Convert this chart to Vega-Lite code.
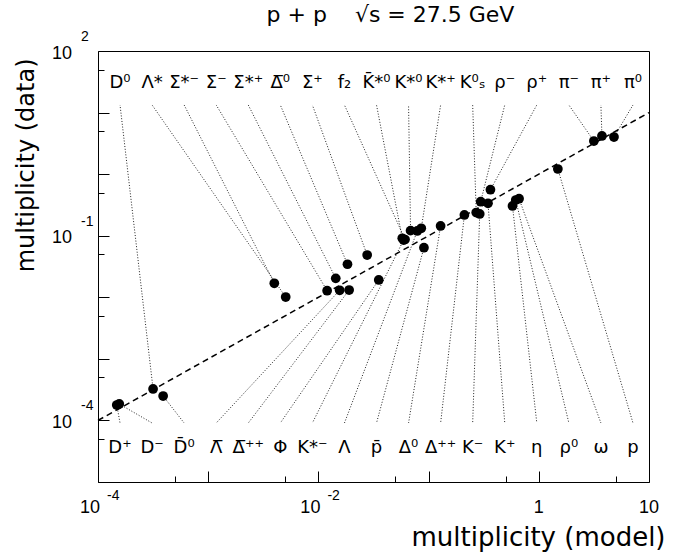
{
  "$schema": "https://vega.github.io/schema/vega-lite/v6.json",
  "width": 551,
  "height": 431,
  "autosize": {"type": "none"},
  "padding": {"left": 98, "top": 51, "right": 32, "bottom": 73},
  "background": "white",
  "title": {"text": "p + p\u00a0\u00a0\u00a0\u00a0\u221as = 27.5 GeV", "font": "DejaVu Sans", "fontSize": 22, "fontWeight": "normal", "color": "black", "frame": "group", "anchor": "middle", "dx": 17, "offset": 7, "dy": 21, "baseline": "alphabetic"},
  "config": {
    "view": {"stroke": "black", "strokeWidth": 1},
    "axis": {"grid": false, "domain": false, "labels": false, "ticks": true, "tickColor": "black", "tickWidth": 1, "titleFont": "DejaVu Sans", "titleFontWeight": "normal", "titleColor": "black"}
  },
  "datasets": {
    "particles": [
      {"label": "D\u2070", "pos": "top", "labx": 0.00015849, "model": 0.000316, "data": 0.000324},
      {"label": "\u039b*", "pos": "top", "labx": 0.00030967, "model": 0.00505, "data": 0.0101},
      {"label": "\u03a3*\u207b", "pos": "top", "labx": 0.00060496, "model": 0.00398, "data": 0.0169},
      {"label": "\u03a3\u207b", "pos": "top", "labx": 0.0011823, "model": 0.0120, "data": 0.0128},
      {"label": "\u03a3*\u207a", "pos": "top", "labx": 0.0023101, "model": 0.01437, "data": 0.0203},
      {"label": "\u0394\u0305\u2070", "pos": "top", "labx": 0.004513, "model": 0.01836, "data": 0.0344},
      {"label": "\u03a3\u207a", "pos": "top", "labx": 0.0088179, "model": 0.0277, "data": 0.0486},
      {"label": "f\u2082", "pos": "top", "labx": 0.017233, "model": 0.0611, "data": 0.0868},
      {"label": "K\u0304*\u2070", "pos": "top", "labx": 0.033677, "model": 0.0577, "data": 0.0908},
      {"label": "K*\u2070", "pos": "top", "labx": 0.065793, "model": 0.0686, "data": 0.1208},
      {"label": "K*\u207a", "pos": "top", "labx": 0.12857, "model": 0.0858, "data": 0.132},
      {"label": "K\u2070\u209b", "pos": "top", "labx": 0.25119, "model": 0.2705, "data": 0.238},
      {"label": "\u03c1\u207b", "pos": "top", "labx": 0.49091, "model": 0.297, "data": 0.357},
      {"label": "\u03c1\u207a", "pos": "top", "labx": 0.95902, "model": 0.364, "data": 0.558},
      {"label": "\u03c0\u207b", "pos": "top", "labx": 1.8738, "model": 3.16, "data": 3.45},
      {"label": "\u03c0\u207a", "pos": "top", "labx": 3.6618, "model": 3.74, "data": 4.17},
      {"label": "\u03c0\u2070", "pos": "top", "labx": 7.1558, "model": 4.81, "data": 4.01},
      {"label": "D\u207a", "pos": "bottom", "labx": 0.00015849, "model": 0.000148, "data": 0.000178},
      {"label": "D\u207b", "pos": "bottom", "labx": 0.00030967, "model": 0.000156, "data": 0.000185},
      {"label": "D\u0304\u2070", "pos": "bottom", "labx": 0.00060496, "model": 0.00039, "data": 0.000249},
      {"label": "\u039b\u0305", "pos": "bottom", "labx": 0.0011823, "model": 0.0156, "data": 0.0130},
      {"label": "\u0394\u0305\u207a\u207a", "pos": "bottom", "labx": 0.0023101, "model": 0.0190, "data": 0.0131},
      {"label": "\u03a6", "pos": "bottom", "labx": 0.004513, "model": 0.0353, "data": 0.0191},
      {"label": "K*\u207b", "pos": "bottom", "labx": 0.0088179, "model": 0.0593, "data": 0.0851},
      {"label": "\u039b", "pos": "bottom", "labx": 0.017233, "model": 0.0789, "data": 0.1193},
      {"label": "p\u0304", "pos": "bottom", "labx": 0.033677, "model": 0.0907, "data": 0.0638},
      {"label": "\u0394\u2070", "pos": "bottom", "labx": 0.065793, "model": 0.1285, "data": 0.1439},
      {"label": "\u0394\u207a\u207a", "pos": "bottom", "labx": 0.12857, "model": 0.2113, "data": 0.2173},
      {"label": "K\u207b", "pos": "bottom", "labx": 0.25119, "model": 0.291, "data": 0.2254},
      {"label": "K\u207a", "pos": "bottom", "labx": 0.49091, "model": 0.346, "data": 0.336},
      {"label": "\u03b7", "pos": "bottom", "labx": 0.95902, "model": 0.577, "data": 0.304},
      {"label": "\u03c1\u2070", "pos": "bottom", "labx": 1.8738, "model": 0.618, "data": 0.380},
      {"label": "\u03c9", "pos": "bottom", "labx": 3.6618, "model": 0.662, "data": 0.399},
      {"label": "p", "pos": "bottom", "labx": 7.1558, "model": 1.489, "data": 1.212}
    ],
    "diag": [{"model": 0.0001, "data": 0.0001}, {"model": 10, "data": 10}],
    "xticks": [
      {"v": 0.0001, "b": "10", "e": "-4"},
      {"v": 0.01, "b": "10", "e": "-2"},
      {"v": 1, "b": "1", "e": ""},
      {"v": 10, "b": "10", "e": ""}
    ],
    "yticks": [
      {"v": 100, "b": "10", "e": "2"},
      {"v": 0.1, "b": "10", "e": "-1"},
      {"v": 0.0001, "b": "10", "e": "-4"}
    ]
  },
  "resolve": {"axis": {"x": "independent", "y": "independent"}},
  "layer": [
    {
      "data": {"name": "particles"},
      "transform": [{"filter": "datum.pos == 'top'"}],
      "mark": {"type": "rule", "stroke": "#222222", "strokeWidth": 1, "strokeDash": [1, 1.8]},
      "encoding": {
        "x": {"field": "model", "type": "quantitative", "scale": {"type": "log", "domain": [0.0001, 10], "nice": false}, "axis": null},
        "x2": {"field": "labx"},
        "y": {"field": "data", "type": "quantitative", "scale": {"type": "log", "domain": [0.00001, 100], "nice": false}, "axis": null},
        "y2": {"datum": 13.28}
      }
    },
    {
      "data": {"name": "particles"},
      "transform": [{"filter": "datum.pos == 'bottom'"}],
      "mark": {"type": "rule", "stroke": "#222222", "strokeWidth": 1, "strokeDash": [1, 1.8]},
      "encoding": {
        "x": {"field": "model", "type": "quantitative", "scale": {"type": "log", "domain": [0.0001, 10], "nice": false}, "axis": null},
        "x2": {"field": "labx"},
        "y": {"field": "data", "type": "quantitative", "scale": {"type": "log", "domain": [0.00001, 100], "nice": false}, "axis": null},
        "y2": {"datum": 0.0000908}
      }
    },
    {
      "data": {"name": "diag"},
      "mark": {"type": "line", "color": "black", "strokeWidth": 1.5, "strokeDash": [6, 4]},
      "encoding": {
        "x": {"field": "model", "type": "quantitative", "scale": {"type": "log", "domain": [0.0001, 10], "nice": false},
              "axis": {"orient": "bottom", "values": [0.0005, 0.005, 0.05, 0.5, 5], "tickSize": -6, "title": null}},
        "y": {"field": "data", "type": "quantitative", "scale": {"type": "log", "domain": [0.00001, 100], "nice": false},
              "axis": {"orient": "left", "values": [0.00005, 0.0005, 0.005, 0.05, 0.5, 5, 50], "tickSize": -6, "title": null}}
      }
    },
    {
      "data": {"name": "particles"},
      "mark": {"type": "point", "filled": true, "size": 95, "color": "black", "opacity": 1},
      "encoding": {
        "x": {"field": "model", "type": "quantitative", "scale": {"type": "log", "domain": [0.0001, 10], "nice": false},
              "axis": {"orient": "bottom", "values": [0.0001, 0.001, 0.01, 0.1, 1, 10], "tickSize": -11, "title": "multiplicity (model)", "titleFontSize": 26, "titleAlign": "right", "titleAnchor": "end", "titleBaseline": "alphabetic", "titleX": 567, "titleY": 63}},
        "y": {"field": "data", "type": "quantitative", "scale": {"type": "log", "domain": [0.00001, 100], "nice": false},
              "axis": {"orient": "left", "values": [0.00001, 0.0001, 0.001, 0.01, 0.1, 1, 10, 100], "tickSize": -11, "title": "multiplicity (data)", "titleFontSize": 24, "titleAngle": -90, "titleAlign": "right", "titleBaseline": "alphabetic", "titleX": -65, "titleY": 7}}
      }
    },
    {
      "data": {"name": "particles"},
      "transform": [{"filter": "datum.pos == 'top'"}],
      "mark": {"type": "text", "font": "DejaVu Sans", "fontSize": 18, "align": "center", "baseline": "alphabetic", "dy": -17, "color": "black"},
      "encoding": {
        "x": {"field": "labx", "type": "quantitative", "scale": {"type": "log", "domain": [0.0001, 10], "nice": false}, "axis": null},
        "y": {"datum": 13.28, "type": "quantitative", "scale": {"type": "log", "domain": [0.00001, 100], "nice": false}, "axis": null},
        "text": {"field": "label"}
      }
    },
    {
      "data": {"name": "particles"},
      "transform": [{"filter": "datum.pos == 'bottom'"}],
      "mark": {"type": "text", "font": "DejaVu Sans", "fontSize": 18, "align": "center", "baseline": "alphabetic", "dy": 30, "color": "black"},
      "encoding": {
        "x": {"field": "labx", "type": "quantitative", "scale": {"type": "log", "domain": [0.0001, 10], "nice": false}, "axis": null},
        "y": {"datum": 0.0000908, "type": "quantitative", "scale": {"type": "log", "domain": [0.00001, 100], "nice": false}, "axis": null},
        "text": {"field": "label"}
      }
    },
    {
      "data": {"name": "xticks"},
      "transform": [{"filter": "datum.e != ''"}],
      "mark": {"type": "text", "font": "Liberation Sans", "fontSize": 18, "align": "right", "baseline": "alphabetic", "dx": 2, "dy": 31, "color": "black"},
      "encoding": {
        "x": {"field": "v", "type": "quantitative", "scale": {"type": "log", "domain": [0.0001, 10], "nice": false}, "axis": null},
        "y": {"datum": 0.00001, "type": "quantitative", "scale": {"type": "log", "domain": [0.00001, 100], "nice": false}, "axis": null},
        "text": {"field": "b"}
      }
    },
    {
      "data": {"name": "xticks"},
      "transform": [{"filter": "datum.e == ''"}],
      "mark": {"type": "text", "font": "Liberation Sans", "fontSize": 18, "align": "center", "baseline": "alphabetic", "dy": 31, "color": "black"},
      "encoding": {
        "x": {"field": "v", "type": "quantitative", "scale": {"type": "log", "domain": [0.0001, 10], "nice": false}, "axis": null},
        "y": {"datum": 0.00001, "type": "quantitative", "scale": {"type": "log", "domain": [0.00001, 100], "nice": false}, "axis": null},
        "text": {"field": "b"}
      }
    },
    {
      "data": {"name": "xticks"},
      "transform": [{"filter": "datum.e != ''"}],
      "mark": {"type": "text", "font": "Liberation Sans", "fontSize": 14, "align": "left", "baseline": "alphabetic", "dx": 9, "dy": 18, "color": "black"},
      "encoding": {
        "x": {"field": "v", "type": "quantitative", "scale": {"type": "log", "domain": [0.0001, 10], "nice": false}, "axis": null},
        "y": {"datum": 0.00001, "type": "quantitative", "scale": {"type": "log", "domain": [0.00001, 100], "nice": false}, "axis": null},
        "text": {"field": "e"}
      }
    },
    {
      "data": {"name": "yticks"},
      "mark": {"type": "text", "font": "Liberation Sans", "fontSize": 18, "align": "right", "baseline": "alphabetic", "dx": -26, "dy": 7.6, "color": "black"},
      "encoding": {
        "x": {"datum": 0.0001, "type": "quantitative", "scale": {"type": "log", "domain": [0.0001, 10], "nice": false}, "axis": null},
        "y": {"field": "v", "type": "quantitative", "scale": {"type": "log", "domain": [0.00001, 100], "nice": false}, "axis": null},
        "text": {"field": "b"}
      }
    },
    {
      "data": {"name": "yticks"},
      "mark": {"type": "text", "font": "Liberation Sans", "fontSize": 14, "align": "left", "baseline": "alphabetic", "dx": -17, "dy": -10, "color": "black"},
      "encoding": {
        "x": {"datum": 0.0001, "type": "quantitative", "scale": {"type": "log", "domain": [0.0001, 10], "nice": false}, "axis": null},
        "y": {"field": "v", "type": "quantitative", "scale": {"type": "log", "domain": [0.00001, 100], "nice": false}, "axis": null},
        "text": {"field": "e"}
      }
    }
  ]
}
